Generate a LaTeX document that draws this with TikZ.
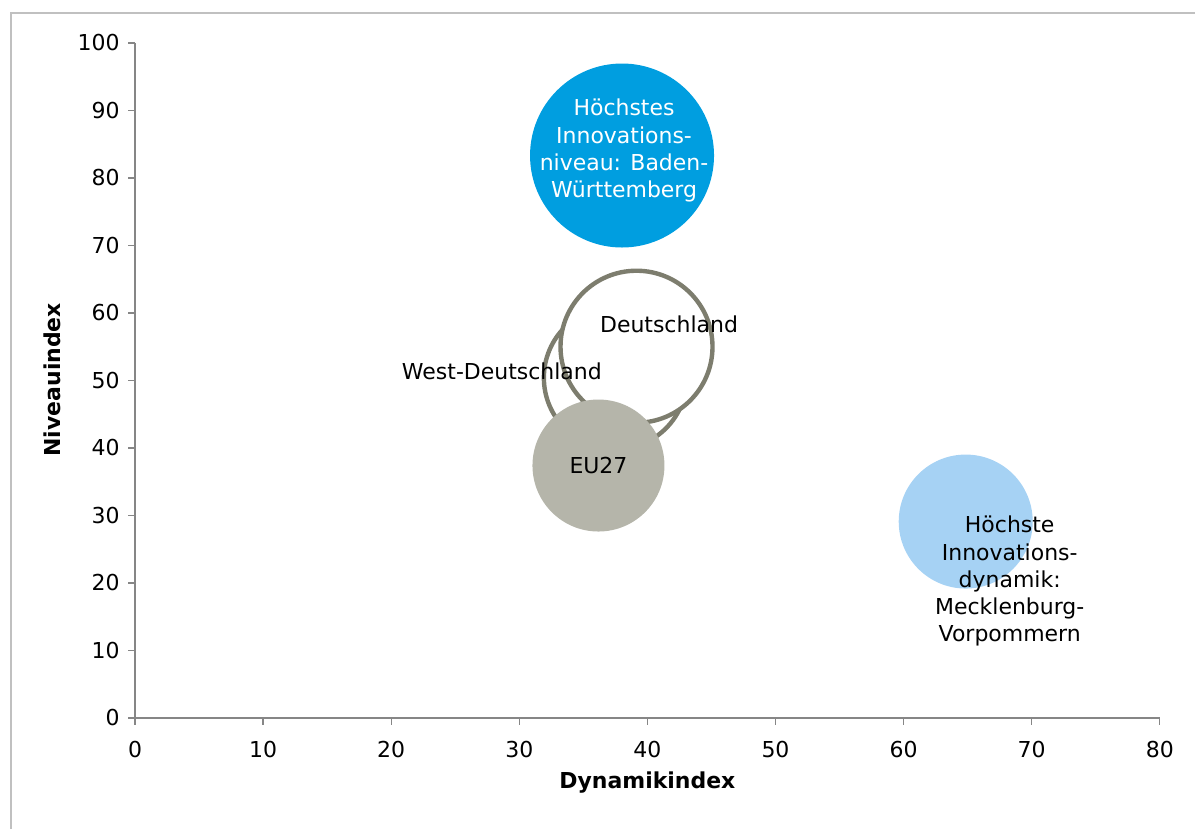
\documentclass[tikz,border=0pt]{standalone}
\usepackage{fontspec}
\setmainfont{DejaVu Sans}
\usepackage{tikz}
\usetikzlibrary{calc,positioning}
\definecolor{bwblue}{RGB}{0,158,224}
\definecolor{mvblue}{RGB}{166,210,244}
\definecolor{eugray}{RGB}{181,181,170}
\definecolor{derim}{RGB}{125,125,110}
\definecolor{axisgray}{RGB}{134,134,134}
\definecolor{framegray}{RGB}{192,192,192}
\tikzset{>=latex}

\begin{document}
\begin{tikzpicture}[x=0.2562cm, y=0.135cm, font=\fontsize{12.5}{15.4}\selectfont,
  bubble/.style={circle, inner sep=0pt, align=center},
  ring/.style={bubble, draw=derim, line width=2.5pt, fill=white},
  axline/.style={axisgray, line width=0.8pt},
  axtitle/.style={font=\fontsize{12.5}{15.4}\selectfont\bfseries}]
\useasboundingbox (-10.54,-16.44) rectangle (82.75,106.37);
\draw[framegray, line width=1.1pt] (-9.68,-16.44) |- (82.75,104.44);

% axes
\draw[axline] (0,100) -- (0,0) -- (80,0);
\foreach \y in {0,10,...,100}{
  \draw[axline] (0,\y) -- ++(-0.14cm,0);
  \node[anchor=east, inner sep=0pt] (yt\y) at ([xshift=-0.3cm]0,\y) {\y};
}
\foreach \x in {0,10,...,80}{
  \draw[axline] (\x,0) -- ++(0,-0.14cm);
  \node (xt\x) at ([yshift=-0.64cm]\x,0) {\x};
}
\node[axtitle, rotate=90] (ytitle) at ([xshift=-1.66cm]0,50.1) {Niveauindex};
\node[axtitle] (xtitle) at ([yshift=-1.3cm]40,0) {Dynamikindex};

% bubbles
\node[ring, minimum size=2.86cm] (west) at (37.5,50.4) {};
\node[ring, minimum size=3.04cm] (de) at (39.15,55.0) {};
\node[bubble, fill=eugray, minimum size=2.64cm] (eu) at (36.18,37.4) {EU27};
\node[bubble, fill=bwblue, minimum size=3.68cm] (bw) at (38.02,83.33) {};
\node[bubble, fill=mvblue, minimum size=2.68cm] (mv) at (64.85,29.1) {};

% labels
\node[align=center, text=white] (bwlbl) at ([xshift=0.04cm, yshift=0.1cm]bw.center)
  {Höchstes\\Innovations-\\niveau: Baden-\\Württemberg};
\node (delbl) at ([xshift=0.65cm, yshift=0.45cm]de.center) {Deutschland};
\node (westlbl) at ([xshift=-2.27cm, yshift=0.12cm]west.center) {West-Deutschland};
\node[align=center] (mvlbl) at ([xshift=0.88cm, yshift=-1.19cm]mv.center)
  {Höchste\\Innovations-\\dynamik:\\Mecklenburg-\\Vorpommern};
\end{tikzpicture}
\end{document}
